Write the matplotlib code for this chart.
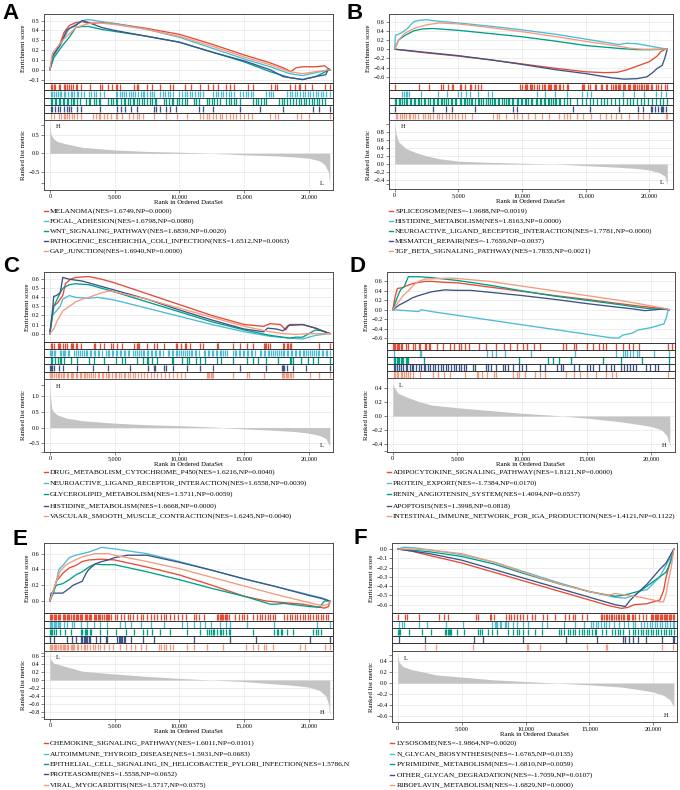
import matplotlib
matplotlib.use("Agg")
import matplotlib.pyplot as plt
from matplotlib.lines import Line2D
from matplotlib.transforms import Bbox, TransformedBbox

plt.rcParams["font.family"] = ["Liberation Serif", "DejaVu Serif"]

W, H = 680, 790
npg = ["#E64B35", "#4DBBD5", "#00A087", "#3C5488", "#F39B7F"]
rank_ticks = [0, 5000, 10000, 15000, 20000]

# ---------------- data (rank in thousands, ES) ----------------
es_a = [
    [(0, 0), (0.3, 0.15), (0.8, 0.27), (1.1, 0.38), (1.5, 0.45), (2.0, 0.48), (2.5, 0.49), (3.0, 0.47), (4.0, 0.48),
     (5.0, 0.47), (7.5, 0.42), (10, 0.36), (12.5, 0.26), (15, 0.15), (17, 0.07), (18, 0.02), (18.6, -0.02), (19, 0.02),
     (19.5, 0.03), (20.5, 0.03), (21.2, 0.04), (21.6, 0.0)],
    [(0, 0), (0.3, 0.14), (1, 0.3), (1.5, 0.42), (2.5, 0.5), (3, 0.51), (4, 0.49), (5, 0.47), (7.5, 0.41), (10, 0.33),
     (12.5, 0.22), (15, 0.11), (17, 0.03), (18.5, -0.04), (19.5, -0.06), (20.5, -0.03), (21.6, 0.0)],
    [(0, 0), (0.3, 0.12), (1, 0.25), (1.5, 0.33), (2, 0.43), (2.5, 0.44), (3, 0.44), (4, 0.41), (5, 0.39), (7.5, 0.34),
     (10, 0.28), (12.5, 0.18), (15, 0.08), (17, -0.02), (18.5, -0.08), (19.5, -0.1), (20.5, -0.07), (21.6, 0.0)],
    [(0, 0), (0.2, 0.14), (0.8, 0.25), (1.3, 0.4), (1.5, 0.42), (2, 0.45), (2.5, 0.5), (3, 0.48), (4, 0.43), (5, 0.4),
     (7.5, 0.34), (10, 0.28), (12.5, 0.18), (15, 0.09), (17, 0.0), (18, -0.07), (19.5, -0.1), (20.5, -0.07),
     (21.3, -0.05), (21.5, 0.01), (21.6, 0.0)],
    [(0, 0), (0.2, 0.17), (1, 0.3), (2, 0.43), (3, 0.47), (3.5, 0.48), (5, 0.46), (7.5, 0.41), (10, 0.34), (12.5, 0.24),
     (15, 0.13), (17, 0.05), (18.5, -0.02), (19.5, -0.04), (20.5, -0.02), (21.6, 0.0)],
]
es_b = [
    [(0, 0), (2.5, -0.08), (5, -0.15), (7.5, -0.23), (10, -0.32), (12.5, -0.41), (15, -0.49), (16.5, -0.51),
     (17.5, -0.5), (18.2, -0.45), (19.2, -0.35), (20, -0.27), (20.6, -0.15), (20.9, -0.05), (21.2, -0.01), (21.4, 0)],
    [(0, 0), (0.05, 0.3), (0.5, 0.35), (1, 0.45), (1.5, 0.6), (2.0, 0.63), (2.5, 0.64), (3, 0.62), (5, 0.57),
     (7.5, 0.5), (10, 0.42), (12.5, 0.33), (15, 0.22), (17.6, 0.1), (18.2, 0.13), (19, 0.12), (20, 0.07), (21.4, 0.0)],
    [(0, 0), (0.3, 0.2), (0.8, 0.3), (1.5, 0.4), (2.2, 0.44), (3, 0.45), (5, 0.41), (7.5, 0.34), (10, 0.27),
     (12.5, 0.18), (15, 0.08), (17.5, 0.02), (19, -0.01), (20, -0.01), (21.4, 0)],
    [(0, 0), (2.5, -0.07), (5, -0.14), (7.5, -0.23), (10, -0.33), (12.5, -0.44), (15, -0.53), (17, -0.62),
     (18, -0.65), (19, -0.64), (19.8, -0.6), (20.2, -0.52), (20.6, -0.42), (21, -0.35), (21.2, -0.2), (21.4, 0.0)],
    [(0, 0), (0.3, 0.2), (0.8, 0.35), (1.5, 0.45), (2.5, 0.53), (3.5, 0.57), (5, 0.55), (7.5, 0.47), (10, 0.38),
     (12.5, 0.28), (15, 0.17), (17.5, 0.07), (18.5, 0.02), (19.5, 0.0), (21.4, 0.0)],
]
es_c = [
    [(0, 0), (0.3, 0.3), (0.6, 0.34), (1, 0.42), (1.2, 0.55), (1.6, 0.6), (2, 0.62), (3, 0.63), (4, 0.6), (5, 0.56),
     (7.5, 0.44), (10, 0.32), (12.5, 0.2), (15, 0.1), (16.5, 0.08), (17, 0.11), (17.8, 0.1), (18.2, 0.04),
     (18.5, 0.1), (19.5, 0.1), (20.5, 0.06), (21.6, 0.0)],
    [(0, 0), (0.2, 0.2), (0.5, 0.25), (0.8, 0.3), (1, 0.38), (1.5, 0.42), (2, 0.4), (3, 0.39), (3.7, 0.4), (5, 0.37),
     (7.5, 0.28), (10, 0.19), (12.5, 0.1), (15, 0.02), (17, -0.03), (18.5, -0.05), (19.5, -0.06), (20, -0.04),
     (20.5, -0.02), (21.6, 0.0)],
    [(0, 0), (0.3, 0.3), (0.8, 0.45), (1, 0.5), (1.5, 0.54), (2, 0.55), (3, 0.54), (5, 0.46), (7.5, 0.35),
     (10, 0.24), (12.5, 0.13), (15, 0.04), (17, -0.02), (18, -0.04), (18.5, -0.05), (19, -0.04), (19.5, -0.04),
     (20, 0.0), (20.5, 0.04), (21, 0.03), (21.6, 0.0)],
    [(0, 0), (0.2, 0.25), (0.3, 0.41), (0.5, 0.42), (0.8, 0.45), (1, 0.62), (1.5, 0.6), (2.5, 0.58), (5, 0.48),
     (7.5, 0.38), (10, 0.26), (12.5, 0.15), (15, 0.05), (16.5, 0.02), (16.8, 0.06), (17.5, 0.05), (18, 0.03),
     (18.4, 0.09), (19.5, 0.1), (20, 0.08), (20.5, 0.06), (21.2, 0.02), (21.6, 0)],
    [(0, 0), (0.3, 0.05), (0.6, 0.15), (1, 0.25), (1.5, 0.3), (2, 0.35), (2.5, 0.38), (3, 0.4), (4, 0.45),
     (4.5, 0.47), (5, 0.46), (7.5, 0.38), (10, 0.28), (12.5, 0.18), (15, 0.08), (17, 0.02), (18, 0.0),
     (19, -0.01), (20, 0.0), (21, 0.0), (21.6, 0)],
]
es_d = [
    [(0, 0), (0.2, 0.3), (0.35, 0.45), (0.8, 0.47), (1, 0.5), (1.5, 0.55), (2, 0.58), (2.5, 0.6), (3, 0.6),
     (4, 0.58), (5, 0.57), (7.5, 0.48), (10, 0.39), (12.5, 0.3), (15, 0.22), (17.5, 0.13), (19, 0.08), (20, 0.05),
     (21, 0.02), (21.4, 0)],
    [(0, 0), (1, -0.02), (2, -0.04), (2.2, 0.0), (3, -0.04), (5, -0.12), (7.5, -0.22), (10, -0.32), (12.5, -0.42),
     (15, -0.52), (17, -0.6), (17.5, -0.6), (17.8, -0.54), (18.5, -0.5), (19, -0.43), (20, -0.38), (21, -0.3),
     (21.2, -0.15), (21.3, -0.02), (21.4, 0.0)],
    [(0, 0), (0.2, 0.15), (0.4, 0.3), (0.6, 0.42), (0.9, 0.5), (1.2, 0.7), (1.5, 0.7), (2, 0.7), (2.5, 0.69),
     (3, 0.68), (5, 0.62), (7.5, 0.52), (10, 0.4), (12.5, 0.29), (15, 0.2), (17.5, 0.11), (19, 0.05), (20, 0.02),
     (21, 0.01), (21.4, 0)],
    [(0, 0), (0.5, 0.1), (1, 0.17), (1.5, 0.25), (2, 0.3), (3, 0.38), (4, 0.42), (5, 0.41), (6, 0.41), (7.5, 0.37),
     (10, 0.3), (12.5, 0.22), (15, 0.13), (17.5, 0.05), (18.5, 0.02), (19.5, -0.02), (20, -0.01), (21, 0.02),
     (21.4, 0)],
    [(0, 0), (0.4, 0.15), (0.8, 0.3), (1.2, 0.4), (1.6, 0.52), (2, 0.6), (2.5, 0.65), (3.5, 0.66), (4.5, 0.67),
     (5.5, 0.65), (7.5, 0.6), (10, 0.5), (12.5, 0.4), (15, 0.3), (17.5, 0.2), (19, 0.13), (20, 0.08), (21, 0.03),
     (21.4, 0)],
]
es_e = [
    [(0, 0), (0.2, 0.1), (0.5, 0.25), (1, 0.35), (1.5, 0.42), (2, 0.45), (2.5, 0.5), (3, 0.52), (4, 0.53),
     (5, 0.52), (7.5, 0.43), (10, 0.33), (12.5, 0.2), (15, 0.06), (16.7, 0.0), (18, -0.02), (19.5, -0.04),
     (20.5, -0.07), (21.2, -0.09), (21.5, -0.07), (21.6, -0.02)],
    [(0, 0), (0.3, 0.1), (0.7, 0.4), (1, 0.45), (1.5, 0.55), (2, 0.58), (2.5, 0.6), (3, 0.62), (3.5, 0.65),
     (4, 0.68), (5, 0.66), (7.5, 0.6), (10, 0.5), (12.5, 0.39), (15, 0.28), (17.5, 0.18), (20, 0.08), (21, 0.04),
     (21.6, 0.0)],
    [(0, 0), (0.2, 0.1), (0.5, 0.2), (1, 0.22), (1.5, 0.27), (2, 0.33), (2.5, 0.37), (3, 0.43), (3.5, 0.47),
     (4, 0.46), (5, 0.46), (7.5, 0.37), (10, 0.27), (12.5, 0.16), (15, 0.06), (17, -0.04), (17.5, -0.04),
     (18, -0.03), (19, -0.05), (20, -0.07), (20.8, -0.08), (21, -0.04), (21.2, 0.0), (21.6, 0.0)],
    [(0, 0), (0.1, 0.1), (1, 0.1), (1.5, 0.16), (1.8, 0.2), (2.5, 0.25), (2.8, 0.35), (3, 0.4), (3.5, 0.47),
     (4, 0.5), (4.5, 0.52), (5, 0.55), (6, 0.58), (7.5, 0.58), (10, 0.49), (12.5, 0.39), (15, 0.28), (17.5, 0.18),
     (20, 0.07), (21, 0.03), (21.6, 0.0)],
    [(0, 0), (0.3, 0.15), (0.8, 0.38), (1.2, 0.45), (1.7, 0.5), (2.5, 0.56), (3.5, 0.6), (4.5, 0.6), (5, 0.58),
     (7.5, 0.5), (10, 0.41), (12.5, 0.3), (15, 0.19), (17.5, 0.08), (19, 0.02), (20, -0.02), (21, -0.06),
     (21.5, -0.04), (21.6, 0.0)],
]
es_f = [
    [(0, 0), (1, -0.02), (2.5, -0.07), (5, -0.15), (7.5, -0.25), (10, -0.35), (12.5, -0.45), (15, -0.55),
     (16.5, -0.61), (17.5, -0.64), (18, -0.63), (18.5, -0.6), (19.5, -0.59), (20, -0.57), (20.5, -0.55),
     (20.8, -0.45), (21, -0.3), (21.3, -0.15), (21.6, 0.0)],
    [(0, 0), (0.5, 0.02), (1.5, 0.01), (2.5, -0.01), (5, -0.06), (7.5, -0.14), (10, -0.25), (12.5, -0.36),
     (15, -0.46), (17, -0.52), (17.8, -0.53), (18.5, -0.5), (19, -0.45), (19.5, -0.44), (20, -0.37), (20.5, -0.3),
     (20.9, -0.2), (21.3, -0.1), (21.6, 0.0)],
    [(0, 0), (1, -0.01), (2.5, -0.03), (5, -0.08), (7.5, -0.16), (10, -0.27), (12.5, -0.37), (15, -0.46),
     (17, -0.51), (17.6, -0.5), (18.2, -0.48), (19, -0.45), (19.5, -0.4), (20, -0.35), (20.5, -0.3), (21, -0.25),
     (21.4, -0.12), (21.6, 0.0)],
    [(0, 0), (2.5, -0.05), (5, -0.12), (7.5, -0.22), (10, -0.32), (12.5, -0.42), (15, -0.52), (17, -0.6),
     (17.8, -0.62), (18.2, -0.55), (18.8, -0.47), (19.5, -0.38), (20, -0.3), (20.5, -0.22), (21, -0.15),
     (21.6, 0.0)],
    [(0, 0), (1, 0.0), (2.5, -0.01), (5, -0.05), (7.5, -0.14), (10, -0.26), (12.5, -0.37), (15, -0.46),
     (16.5, -0.5), (17, -0.48), (18, -0.5), (19, -0.52), (20, -0.55), (20.5, -0.57), (20.8, -0.57), (21, -0.48),
     (21.1, -0.4), (21.4, -0.2), (21.6, 0.0)],
]

# ---------------- hit positions (units of 100 ranks) ----------------
hits_a = [
    [1, 2, 3, 4, 7, 8, 11, 12, 13, 15, 16, 18, 20, 21, 24, 31, 39, 40, 45, 48, 51, 52, 54, 65, 67, 68, 75, 79, 85, 93,
     95, 104, 109, 116, 122, 126, 130, 136, 139, 142, 153, 157, 171, 174, 175, 185, 189, 192, 193, 197, 202, 212, 216],
    [1, 2, 3, 5, 6, 8, 9, 11, 12, 14, 16, 17, 19, 21, 22, 24, 26, 30, 32, 34, 36, 39, 42, 51, 52, 54, 56, 57, 59, 61,
     63, 64, 66, 68, 70, 72, 73, 75, 77, 79, 80, 85, 87, 89, 91, 93, 95, 100, 102, 104, 106, 108, 110, 112, 114, 116,
     118, 126, 128, 130, 132, 134, 136, 138, 140, 142, 147, 149, 151, 153, 155, 157, 167, 169, 171, 172, 183, 185,
     187, 189, 191, 193, 195, 197, 199, 201, 203, 205, 207, 209, 211, 213, 216],
    [1, 2, 4, 5, 7, 8, 10, 11, 13, 14, 16, 18, 19, 21, 23, 28, 30, 31, 34, 36, 38, 39, 45, 47, 49, 51, 52, 55, 57, 58,
     60, 62, 64, 65, 67, 69, 71, 73, 75, 77, 79, 81, 82, 88, 90, 92, 94, 95, 98, 100, 102, 104, 106, 111, 113, 115,
     121, 123, 125, 127, 129, 131, 136, 138, 140, 142, 144, 147, 157, 159, 161, 163, 165, 167, 177, 179, 181, 183,
     185, 188, 190, 192, 194, 196, 198, 200, 202, 204, 206, 208, 210, 212],
    [1, 2, 4, 6, 8, 11, 13, 15, 16, 21, 24, 39, 52, 55, 58, 63, 67, 80, 82, 85, 90, 93, 97, 115, 118, 126, 147, 162,
     180, 203, 208, 216],
    [1, 3, 7, 9, 11, 12, 13, 15, 17, 19, 21, 24, 33, 36, 38, 39, 42, 44, 47, 51, 52, 56, 61, 64, 67, 69, 72, 80, 90,
     98, 106, 116, 118, 121, 123, 126, 128, 131, 133, 136, 139, 141, 144, 147, 150, 153, 156, 170, 174, 176, 191,
     194, 200, 216],
]
hits_b = [
    [0, 19, 27, 36, 38, 42, 45, 46, 51, 52, 55, 59, 60, 63, 65, 68, 98, 100, 102, 103, 104, 106, 107, 108, 109, 112,
     113, 116, 117, 118, 120, 121, 122, 123, 125, 126, 127, 129, 130, 132, 135, 136, 147, 148, 149, 152, 153, 157,
     158, 162, 163, 166, 167, 170, 171, 173, 174, 175, 176, 177, 179, 180, 181, 183, 184, 185, 187, 188, 189, 190,
     192, 193, 194, 196, 197, 198, 199, 201, 202, 205, 207, 209, 212, 214],
    [6, 7, 9, 10, 11, 21, 34, 41, 50, 52, 56, 59, 65, 73, 76, 112, 118, 126, 135, 147, 151, 154, 179, 188, 196, 205,
     209, 213],
    [0, 1, 3, 4, 6, 7, 9, 10, 12, 13, 15, 16, 18, 19, 21, 23, 24, 26, 28, 30, 31, 33, 34, 36, 37, 39, 40, 42, 44, 45,
     47, 48, 51, 52, 54, 55, 57, 58, 60, 61, 63, 65, 66, 68, 69, 72, 73, 75, 76, 78, 79, 81, 82, 84, 86, 87, 89, 90,
     92, 93, 96, 97, 99, 100, 102, 103, 105, 107, 108, 111, 112, 114, 115, 117, 118, 120, 121, 123, 124, 126, 127,
     129, 130, 133, 135, 138, 143, 147, 150, 153, 156, 159, 162, 164, 167, 170, 173, 176, 179, 182, 185, 187, 190,
     193, 196, 199, 202, 205, 208, 211, 214],
    [0, 30, 40, 45, 63, 93, 96, 140, 153, 176, 191, 195, 201, 202, 204, 207, 209, 210, 211, 213],
    [1, 2, 4, 6, 7, 9, 11, 12, 14, 16, 18, 22, 24, 26, 28, 30, 33, 35, 37, 40, 43, 45, 47, 50, 53, 55, 61, 77, 80, 82,
     87, 94, 96, 100, 105, 110, 116, 121, 129, 133, 135, 138, 143, 148, 154, 161, 166, 170, 174, 178, 184, 191, 195,
     200, 213, 214],
]
hits_c = [
    [1, 2, 3, 6, 7, 8, 10, 12, 13, 16, 17, 18, 20, 21, 24, 34, 35, 39, 42, 47, 49, 52, 56, 65, 67, 68, 69, 75, 80, 83,
     88, 97, 98, 101, 104, 105, 108, 116, 118, 129, 130, 141, 147, 152, 157, 165, 166, 167, 168, 170, 180, 181, 183,
     184, 185, 186, 208, 216],
    [0, 1, 2, 3, 4, 8, 9, 10, 11, 12, 14, 15, 19, 20, 22, 23, 25, 26, 28, 29, 31, 32, 34, 35, 37, 38, 40, 43, 45, 46,
     48, 49, 51, 52, 54, 55, 57, 58, 60, 61, 64, 66, 67, 69, 70, 72, 73, 75, 76, 78, 79, 81, 82, 84, 85, 87, 91, 92,
     94, 95, 97, 98, 100, 101, 103, 104, 106, 107, 109, 110, 112, 113, 115, 119, 120, 122, 123, 125, 126, 128, 129,
     131, 132, 134, 135, 137, 141, 143, 144, 146, 147, 149, 150, 152, 153, 155, 156, 158, 162, 163, 165, 166, 168,
     169, 171, 172, 174, 175, 177, 178, 180, 181, 183, 184, 186, 187, 189, 190, 192, 193, 195, 196, 198, 199, 201,
     202, 204, 205, 207, 208, 210, 211, 213, 214, 216],
    [1, 2, 4, 6, 8, 9, 11, 16, 21, 30, 34, 42, 51, 56, 58, 67, 72, 75, 76, 79, 83, 94, 95, 102, 106, 107, 113, 116,
     120, 129, 132, 141, 152, 157, 161, 167, 176, 185, 186, 188, 194, 199, 203, 207, 216],
    [0, 1, 2, 3, 7, 10, 21, 33, 45, 62, 76, 80, 81, 88, 90, 95, 106, 116, 126, 147, 167, 179, 180, 181, 183, 188, 198,
     216],
    [0, 1, 2, 3, 5, 6, 7, 9, 10, 11, 13, 14, 16, 17, 18, 20, 21, 23, 24, 26, 27, 29, 30, 32, 33, 35, 37, 38, 40, 41,
     43, 45, 46, 48, 50, 51, 53, 55, 57, 58, 60, 62, 64, 66, 68, 70, 73, 75, 78, 80, 83, 86, 89, 92, 95, 98, 101, 104,
     121, 122, 123, 124, 125, 126, 141, 152, 154, 165, 179, 180, 181, 182, 183, 184, 185, 186, 188, 201, 208, 216],
]
hits_d = [
    [0, 1, 2, 3, 4, 5, 6, 7, 10, 12, 16, 17, 20, 21, 25, 26, 28, 29, 34, 39, 44, 47, 51, 53, 56, 59, 67, 72, 80, 86,
     91, 96, 101, 104, 109, 114, 132, 134, 140, 142, 150, 155, 160, 163, 165, 173, 178, 183, 186, 191, 213, 216],
    [1, 21, 22, 73, 77, 80, 87, 107, 141, 173, 178, 180, 181, 184, 186, 189, 191, 202, 214],
    [1, 2, 3, 4, 5, 6, 7, 8, 10, 11, 12, 24, 98, 120, 124, 129, 138, 163, 177, 193, 214],
    [1, 2, 3, 5, 6, 8, 10, 11, 13, 15, 16, 18, 20, 22, 24, 25, 27, 29, 31, 33, 35, 37, 39, 41, 43, 45, 47, 49, 51, 53,
     55, 57, 62, 64, 72, 74, 76, 80, 85, 87, 89, 93, 98, 100, 103, 114, 118, 127, 130, 132, 140, 144, 150, 153, 155,
     160, 165, 169, 171, 177, 179, 181, 184, 186, 188, 196, 199, 203, 205, 214],
    [1, 2, 3, 4, 6, 7, 9, 10, 12, 13, 16, 21, 31, 35, 40, 44, 56, 65, 66, 69, 73, 78, 80, 93, 96, 98, 102, 110, 114,
     118, 134, 140, 145, 150, 157, 165, 170, 173, 213],
]
hits_e = [
    [0, 1, 2, 3, 4, 5, 6, 7, 8, 10, 11, 12, 13, 14, 15, 16, 18, 19, 20, 21, 22, 23, 24, 25, 27, 28, 29, 30, 31, 32, 34,
     35, 36, 37, 38, 39, 40, 42, 43, 44, 45, 46, 47, 50, 52, 55, 57, 60, 62, 64, 67, 70, 72, 75, 78, 80, 83, 86, 88,
     90, 93, 96, 99, 102, 105, 111, 113, 115, 119, 129, 130, 131, 132, 133, 134, 135, 136, 137, 138, 143, 146, 148,
     150, 152, 157, 160, 162, 164, 166, 168, 170, 172, 174, 181, 183, 185, 187, 189, 191, 193, 195, 197, 199, 201,
     203, 205, 207, 209, 211, 213, 215],
    [0, 1, 2, 3, 4, 5, 6, 7, 8, 11, 13, 17, 19, 24, 29, 34, 39, 44, 54, 58, 63, 70, 78, 88, 102, 106, 111, 116, 120,
     124, 131, 136, 139, 152, 173, 206, 216],
    [0, 1, 2, 3, 5, 8, 12, 16, 24, 25, 27, 28, 29, 31, 32, 39, 44, 51, 59, 65, 72, 75, 79, 85, 93, 106, 116, 121, 123,
     124, 126, 127, 129, 131, 132, 134, 136, 138, 139, 157, 173, 175, 176, 178, 179, 183, 188, 203, 205, 207, 209],
    [0, 3, 13, 17, 20, 24, 25, 26, 27, 28, 29, 30, 31, 36, 39, 43, 44, 52, 53, 54, 55, 56, 57, 58, 63, 72, 80, 111,
     139, 159, 201, 216],
    [0, 1, 2, 3, 4, 5, 6, 8, 9, 10, 11, 12, 13, 14, 16, 17, 18, 19, 21, 22, 24, 26, 27, 29, 31, 33, 35, 37, 39, 42, 46,
     49, 54, 59, 63, 66, 70, 74, 84, 86, 88, 90, 93, 95, 106, 111, 121, 134, 151, 157, 161, 165, 167, 172, 193, 197,
     212, 216],
]
hits_f = [
    [0, 6, 7, 17, 32, 36, 39, 61, 63, 72, 73, 75, 85, 87, 89, 91, 93, 96, 98, 101, 105, 107, 114, 117, 123, 131, 134,
     137, 139, 144, 148, 159, 160, 161, 163, 164, 165, 167, 168, 169, 171, 172, 173, 175, 176, 177, 179, 180, 181,
     183, 184, 186, 189, 192, 194, 198, 199, 200, 201, 202, 203, 204, 205, 206, 207, 208, 209, 210, 211, 212, 213,
     214, 215, 216],
    [1, 3, 5, 17, 23, 38, 51, 74, 76, 77, 78, 80, 81, 84, 85, 86, 90, 93, 98, 102, 113, 117, 130, 139, 146, 151, 153,
     155, 157, 159, 161, 163, 165, 169, 173, 177, 180, 184, 186, 190, 193, 195, 197, 199, 201, 203, 205, 207, 209,
     211, 213, 215, 216],
    [0, 1, 2, 9, 19, 26, 37, 38, 39, 40, 41, 42, 46, 52, 63, 64, 66, 71, 74, 78, 86, 90, 93, 95, 98, 102, 107, 113,
     126, 128, 130, 133, 135, 137, 139, 142, 144, 146, 148, 150, 152, 154, 155, 160, 163, 168, 170, 172, 174, 176,
     181, 184, 186, 188, 190, 192, 194, 196, 198, 200, 202, 204, 206, 208, 210, 212, 214, 216],
    [1, 21, 60, 67, 98, 132, 156, 176, 178, 181, 184, 188, 194, 207, 215, 216],
    [21, 30, 59, 101, 102, 111, 148, 163, 164, 207, 215],
]

# ---------------- ranked list metric (rank in thousands, metric) ----------------
metric_a = [(0, 0.75), (0.1, 0.5), (0.3, 0.38), (0.6, 0.31), (1.3, 0.25), (2.5, 0.16), (5, 0.09), (7.5, 0.05),
            (10, 0.03), (12.5, 0.0), (15, -0.04), (17.5, -0.07), (19, -0.1), (20, -0.13), (20.8, -0.2), (21.2, -0.3),
            (21.5, -0.5), (21.6, -0.85)]
metric_b = [(0, 1.0), (0.1, 0.75), (0.3, 0.55), (0.85, 0.39), (1.5, 0.3), (2.5, 0.2), (3.5, 0.13), (5, 0.07),
            (7.5, 0.04), (10, 0.02), (12.5, 0.0), (15, -0.04), (17.5, -0.08), (19, -0.11), (20, -0.15), (20.8, -0.22),
            (21.2, -0.3), (21.4, -0.52)]
metric_c = [(0, 1.4), (0.05, 1.0), (0.15, 0.6), (0.3, 0.5), (0.6, 0.4), (1.3, 0.3), (2.5, 0.22), (5, 0.14),
            (7.5, 0.09), (10, 0.06), (12.5, 0.02), (15, -0.04), (17.5, -0.09), (19, -0.13), (20, -0.18), (20.8, -0.25),
            (21.3, -0.35), (21.6, -0.6)]
metric_d = [(0, 0.47), (0.1, 0.42), (0.4, 0.33), (1, 0.28), (2, 0.21), (3, 0.16), (5, 0.12), (7.5, 0.08),
            (10, 0.04), (12.5, 0.01), (15, -0.03), (17.5, -0.08), (19, -0.12), (20, -0.15), (20.8, -0.2),
            (21.2, -0.28), (21.45, -0.42)]
metric_e = [(0, 0.6), (0.1, 0.5), (0.3, 0.42), (1.3, 0.33), (2.5, 0.22), (5, 0.15), (7.5, 0.09), (10, 0.04),
            (12.5, 0.0), (15, -0.04), (17.5, -0.1), (19, -0.14), (20, -0.18), (20.8, -0.26), (21.3, -0.4),
            (21.5, -0.6), (21.6, -0.9)]
metric_f = [(0, 0.5), (0.1, 0.38), (0.4, 0.3), (1, 0.25), (2, 0.2), (3, 0.15), (5, 0.11), (7.5, 0.06), (10, 0.03),
            (12.5, 0.0), (15, -0.03), (17.5, -0.07), (19, -0.12), (20, -0.16), (20.8, -0.22), (21.3, -0.3),
            (21.6, -0.42)]

labels_a = ["MELANOMA(NES=1.6749,NP=0.0000)", "FOCAL_ADHESION(NES=1.6798,NP=0.0080)",
            "WNT_SIGNALING_PATHWAY(NES=1.6839,NP=0.0020)",
            "PATHOGENIC_ESCHERICHIA_COLI_INFECTION(NES=1.6512,NP=0.0063)", "GAP_JUNCTION(NES=1.6940,NP=0.0000)"]
labels_b = ["SPLICEOSOME(NES=-1.9688,NP=0.0019)", "HISTIDINE_METABOLISM(NES=1.8163,NP=0.0000)",
            "NEUROACTIVE_LIGAND_RECEPTOR_INTERACTION(NES=1.7781,NP=0.0000)", "MISMATCH_REPAIR(NES=-1.7659,NP=0.0037)",
            "TGF_BETA_SIGNALING_PATHWAY(NES=1.7835,NP=0.0021)"]
labels_c = ["DRUG_METABOLISM_CYTOCHROME_P450(NES=1.6216,NP=0.0040)",
            "NEUROACTIVE_LIGAND_RECEPTOR_INTERACTION(NES=1.6558,NP=0.0039)",
            "GLYCEROLIPID_METABOLISM(NES=1.5711,NP=0.0059)", "HISTIDINE_METABOLISM(NES=1.6668,NP=0.0000)",
            "VASCULAR_SMOOTH_MUSCLE_CONTRACTION(NES=1.6245,NP=0.0040)"]
labels_d = ["ADIPOCYTOKINE_SIGNALING_PATHWAY(NES=1.8121,NP=0.0000)", "PROTEIN_EXPORT(NES=-1.7384,NP=0.0170)",
            "RENIN_ANGIOTENSIN_SYSTEM(NES=1.4094,NP=0.0557)", "APOPTOSIS(NES=1.3998,NP=0.0818)",
            "INTESTINAL_IMMUNE_NETWORK_FOR_IGA_PRODUCTION(NES=1.4121,NP=0.1122)"]
labels_e = ["CHEMOKINE_SIGNALING_PATHWAY(NES=1.6011,NP=0.0101)", "AUTOIMMUNE_THYROID_DISEASE(NES=1.5931,NP=0.0683)",
            "EPITHELIAL_CELL_SIGNALING_IN_HELICOBACTER_PYLORI_INFECTION(NES=1.5786,NP=",
            "PROTEASOME(NES=1.5558,NP=0.0652)", "VIRAL_MYOCARDITIS(NES=1.5717,NP=0.0375)"]
labels_f = ["LYSOSOME(NES=-1.9864,NP=0.0020)", "N_GLYCAN_BIOSYNTHESIS(NES=-1.6765,NP=0.0135)",
            "PYRIMIDINE_METABOLISM(NES=-1.6810,NP=0.0059)", "OTHER_GLYCAN_DEGRADATION(NES=-1.7059,NP=0.0107)",
            "RIBOFLAVIN_METABOLISM(NES=-1.6829,NP=0.0000)"]

# ---------------- layout (pixels) and axis settings ----------------
panels = [
    dict(tag="A", lx=2, ly=19, L=44, R=333, t=14, m1=83, m2=120, b=190, legy=[211, 221, 231, 241, 251], dx=44, tx=50,
         es=es_a, hits=hits_a, metric=metric_a, labels=labels_a, eslim=(-0.135, 0.567),
         esticks=[-0.1, 0.0, 0.1, 0.2, 0.3, 0.4, 0.5], mlim=(-0.98, 0.89), mticks=[-0.5, 0.0, 0.5],
         mminor=[0.75, -0.8], top="H", bot="L"),
    dict(tag="B", lx=346, ly=19, L=389, R=673, t=14, m1=83, m2=120, b=189, legy=[211, 221, 231, 241, 251], dx=389,
         tx=395, es=es_b, hits=hits_b, metric=metric_b, labels=labels_b, eslim=(-0.734, 0.765),
         esticks=[-0.6, -0.4, -0.2, 0.0, 0.2, 0.4, 0.6], mlim=(-0.62, 1.09),
         mticks=[-0.4, -0.2, 0.0, 0.2, 0.4, 0.6, 0.8], mminor=[1.0, -0.5], top="H", bot="L"),
    dict(tag="C", lx=3, ly=272, L=44, R=333, t=272, m1=342, m2=379, b=452, legy=[472, 483, 494, 506, 516], dx=44,
         tx=50, es=es_c, hits=hits_c, metric=metric_c, labels=labels_c, eslim=(-0.093, 0.68),
         esticks=[0.0, 0.1, 0.2, 0.3, 0.4, 0.5, 0.6], mlim=(-0.78, 1.55), mticks=[-0.5, 0.0, 0.5, 1.0],
         mminor=[1.36, -0.77], top="H", bot="L"),
    dict(tag="D", lx=350, ly=272, L=387, R=675, t=272, m1=343, m2=378, b=452, legy=[472, 483, 494, 506, 516], dx=387,
         tx=393, es=es_d, hits=hits_d, metric=metric_d, labels=labels_d, eslim=(-0.707, 0.8),
         esticks=[-0.6, -0.4, -0.2, 0.0, 0.2, 0.4, 0.6], mlim=(-0.52, 0.55), mticks=[-0.4, -0.2, 0.0, 0.2, 0.4],
         mminor=[-0.5], top="L", bot="H"),
    dict(tag="E", lx=12, ly=545, L=44, R=333, t=543, m1=613, m2=651, b=719, legy=[743, 754, 764, 774, 785], dx=44,
         tx=50, es=es_e, hits=hits_e, metric=metric_e, labels=labels_e, eslim=(-0.152, 0.735),
         esticks=[0.0, 0.2, 0.4, 0.6], mlim=(-0.975, 0.725), mticks=[-0.8, -0.6, -0.4, -0.2, 0.0, 0.2, 0.4, 0.6],
         mminor=[0.68, -0.93], top="L", bot="H"),
    dict(tag="F", lx=353, ly=544, L=392, R=677, t=543, m1=613, m2=651, b=722, legy=[743, 754, 764, 775, 785], dx=390,
         tx=397, es=es_f, hits=hits_f, metric=metric_f, labels=labels_f, eslim=(-0.69, 0.065),
         esticks=[-0.6, -0.5, -0.4, -0.3, -0.2, -0.1, 0.0], mlim=(-0.7, 0.58),
         mticks=[-0.6, -0.4, -0.2, 0.0, 0.2, 0.4], mminor=[0.51], top="L", bot="H"),
]

XLIM = (-450, 21850)
SPINE = "#4d4d4d"
GRID = "#e8e8e8"
TICK_FS, LAB_FS, LEG_FS = 4.4, 4.9, 5.3


def fx(x):
    return x / W


def fy(y):
    return 1 - y / H


fig = plt.figure(figsize=(W / 100, H / 100), dpi=100)


def add_ax(l, r, t, b):
    return fig.add_axes([fx(l), fy(b), (r - l) / W, (b - t) / H])


def style(ax):
    for s in ax.spines.values():
        s.set_color(SPINE)
        s.set_linewidth(0.7)
    ax.tick_params(which="both", length=2, width=0.5, color=SPINE, labelsize=TICK_FS, pad=1.2)
    ax.set_xlim(XLIM)


for p in panels:
    # enrichment score
    ax = add_ax(p["L"], p["R"], p["t"], p["m1"])
    style(ax)
    for pts, c in zip(p["es"], npg):
        ax.plot([q[0] * 1000 for q in pts], [q[1] for q in pts], color=c, lw=0.95)
    ax.set_ylim(p["eslim"])
    ax.set_yticks(p["esticks"])
    ax.set_xticks(rank_ticks)
    ax.tick_params(axis="x", length=0, labelbottom=False)
    ax.grid(color=GRID, lw=0.5)
    ax.set_axisbelow(True)
    ax.set_ylabel("Enrichment score", fontsize=LAB_FS, labelpad=1.5)

    # hit rows
    hx = add_ax(p["L"], p["R"], p["m1"], p["m2"])
    style(hx)
    for s in hx.spines.values():
        s.set_color("#333333")
    for i, (pos, c) in enumerate(zip(p["hits"], npg)):
        hx.vlines([v * 100 for v in pos], 4 - i + 0.07, 5 - i - 0.07, color=c, lw=0.95)
    for yb in [1, 2, 3, 4]:
        hx.axhline(yb, color="#333333", lw=0.7)
    hx.set_ylim(0, 5)
    hx.set_xticks([])
    hx.set_yticks([])

    # ranked list metric
    rx = add_ax(p["L"], p["R"], p["m2"], p["b"])
    style(rx)
    mx = [q[0] * 1000 for q in p["metric"]]
    my = [q[1] for q in p["metric"]]
    rx.fill_between(mx, 0, my, color="#c4c4c4", lw=0)
    rx.set_ylim(p["mlim"])
    rx.set_yticks(p["mticks"])
    rx.set_yticks(p["mminor"], minor=True)
    rx.set_xticks(rank_ticks)
    rx.set_xticklabels([f"{v:,}" for v in rank_ticks])
    rx.grid(color=GRID, lw=0.5)
    rx.set_axisbelow(True)
    rx.set_ylabel("Ranked list metric", fontsize=LAB_FS, labelpad=1.5)
    rx.set_xlabel("Rank in Ordered DataSet", fontsize=LAB_FS, labelpad=0.3)
    rx.text(0.04, 0.9, p["top"], transform=rx.transAxes, fontsize=4.5, va="center")
    rx.text(0.955, 0.09, p["bot"], transform=rx.transAxes, fontsize=4.5, va="center")

    # panel letter
    fig.text(fx(p["lx"]), fy(p["ly"]), p["tag"], fontsize=16, fontweight="bold",
             family="Liberation Sans", va="baseline", ha="left")

    # legend rows
    for yy, name, c in zip(p["legy"], p["labels"], npg):
        fig.add_artist(Line2D([fx(p["dx"]), fx(p["dx"] + 4)], [fy(yy), fy(yy)], color=c, lw=1.0))
        t = fig.text(fx(p["tx"]), fy(yy), name, fontsize=LEG_FS, va="center", ha="left")
        if p["tag"] == "E":
            t.set_clip_box(TransformedBbox(Bbox([[0, 0], [fx(350), 1]]), fig.transFigure))
            t.set_clip_on(True)

fig.savefig("out.png", dpi=100)
